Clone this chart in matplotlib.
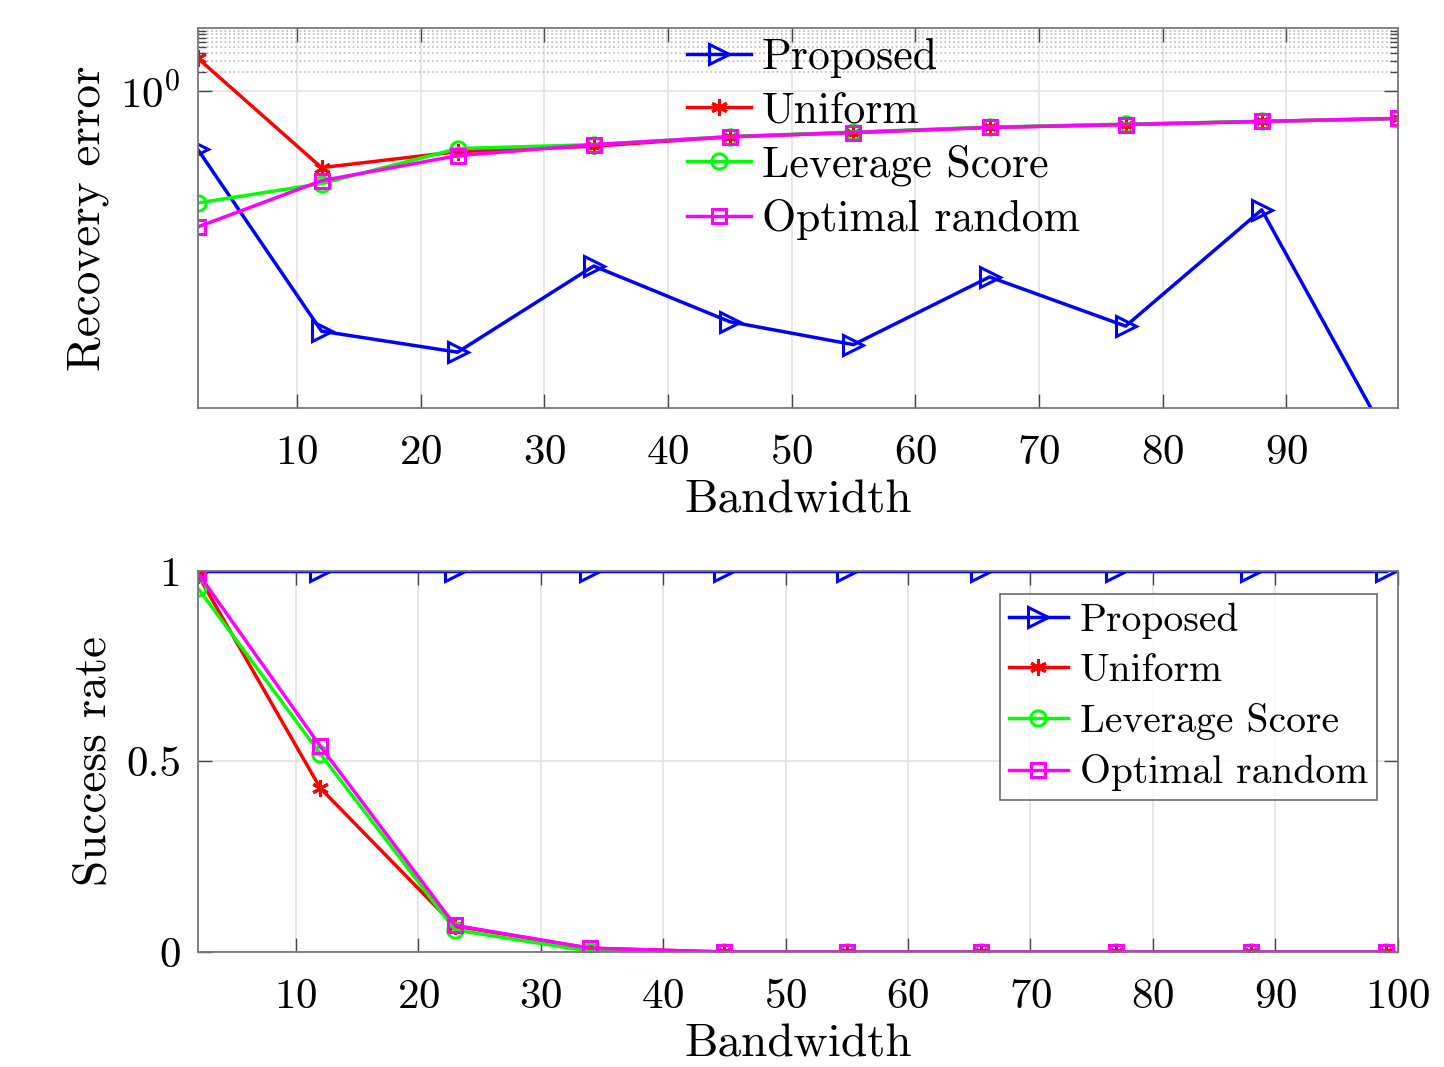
import numpy as np
import matplotlib
matplotlib.use('Agg')
import matplotlib.pyplot as plt
from matplotlib.ticker import FixedLocator, NullFormatter

plt.rcParams['font.family'] = ['cmr10', 'DejaVu Serif']
plt.rcParams['mathtext.fontset'] = 'cm'
plt.rcParams['axes.formatter.use_mathtext'] = True

# data
bandwidth = [2, 12, 23, 34, 45, 55, 66, 77, 88, 99]
names = ['Proposed', 'Uniform', 'Leverage Score', 'Optimal random']

err_proposed = [0.12, 1.63e-4, 7.6e-5, 1.74e-3, 2.3e-4, 1.0e-4, 1.17e-3, 1.96e-4, 0.0134, 1.7e-6]
err_uniform = [3.3, 0.062, 0.111, 0.135, 0.19, 0.222, 0.267, 0.297, 0.332, 0.37]
err_leverage = [0.0172, 0.0347, 0.124, 0.143, 0.192, 0.226, 0.27, 0.302, 0.334, 0.368]
err_optimal = [0.0072, 0.0386, 0.096, 0.143, 0.19, 0.222, 0.267, 0.297, 0.332, 0.372]

succ_proposed = [1, 1, 1, 1, 1, 1, 1, 1, 1, 1]
succ_uniform = [0.99, 0.43, 0.068, 0.01, 0, 0, 0, 0, 0, 0]
succ_leverage = [0.955, 0.52, 0.058, 0.002, 0, 0, 0, 0, 0, 0]
succ_optimal = [0.995, 0.54, 0.07, 0.01, 0, 0, 0, 0, 0, 0]

colors = ['#0000ff', '#ff0000', '#00ff00', '#ff00ff']
markers = ['>', (6, 2, 0), 'o', 's']
msizes = [15, 12, 11, 10]

fig = plt.figure(figsize=(14.44, 10.67), dpi=100)
ax1 = fig.add_axes([0.137, 0.6176, 0.831, 0.3564])
ax2 = fig.add_axes([0.137, 0.1078, 0.831, 0.3571])


def draw(ax, series):
    for s, c, m, ms, n in zip(series, colors, markers, msizes, names):
        ax.plot(bandwidth, s, color=c, marker=m, markersize=ms, markerfacecolor='none',
                markeredgecolor=c, markeredgewidth=2.2, linewidth=2.5, label=n)


def style(ax):
    ax.tick_params(which='both', direction='in', top=True, right=True, labelsize=31,
                   length=10, width=1, color='#444444', pad=12)
    ax.tick_params(axis='x', pad=19)
    for sp in ax.spines.values():
        sp.set_color('#777777')
        sp.set_linewidth(1.3)
    ax.grid(True, which='major', color='#e3e3e3', linewidth=1.2)
    ax.set_axisbelow(True)


# top: recovery error
draw(ax1, [err_proposed, err_uniform, err_leverage, err_optimal])
ax1.set_yscale('log')
ax1.set_ylim(1e-5, 10)
ax1.set_xlim(2, 99)
ax1.set_xticks([10, 20, 30, 40, 50, 60, 70, 80, 90])
ax1.set_yticks([1])
ax1.set_yticklabels([r'$10^0$'])
ax1.yaxis.set_minor_locator(FixedLocator([2, 3, 4, 5, 6, 7, 8, 9]))
ax1.yaxis.set_minor_formatter(NullFormatter())
style(ax1)
ax1.tick_params(which='minor', length=6)
ax1.grid(True, which='minor', axis='y', linestyle=':', color='#bbbbbb', linewidth=1.2)
ax1.set_xlabel('Bandwidth', fontsize=34, labelpad=6)
ax1.set_ylabel('Recovery error', fontsize=34, labelpad=8)
ax1.legend(loc='upper left', bbox_to_anchor=(0.408, 0.972), frameon=False, fontsize=31.5,
           handlelength=1.45, handletextpad=0.25, labelspacing=0.3, borderpad=0,
           borderaxespad=0)

# bottom: success rate
draw(ax2, [succ_proposed, succ_uniform, succ_leverage, succ_optimal])
ax2.set_ylim(0, 1)
ax2.set_xlim(2, 100)
ax2.set_xticks([10, 20, 30, 40, 50, 60, 70, 80, 90, 100])
ax2.set_yticks([0, 0.5, 1])
ax2.set_yticklabels(['0', '0.5', '1'])
style(ax2)
ax2.set_xlabel('Bandwidth', fontsize=34, labelpad=6)
ax2.set_ylabel('Success rate', fontsize=34, labelpad=8)
leg = ax2.legend(loc='upper right', bbox_to_anchor=(0.9825, 0.94), frameon=True, fancybox=False,
                 fontsize=28.5, handlelength=1.5, handletextpad=0.3, labelspacing=0.36,
                 borderpad=0.22, borderaxespad=0)
leg.get_frame().set_edgecolor('#444444')
leg.get_frame().set_linewidth(1.2)

fig.savefig('out.png', dpi=100)
